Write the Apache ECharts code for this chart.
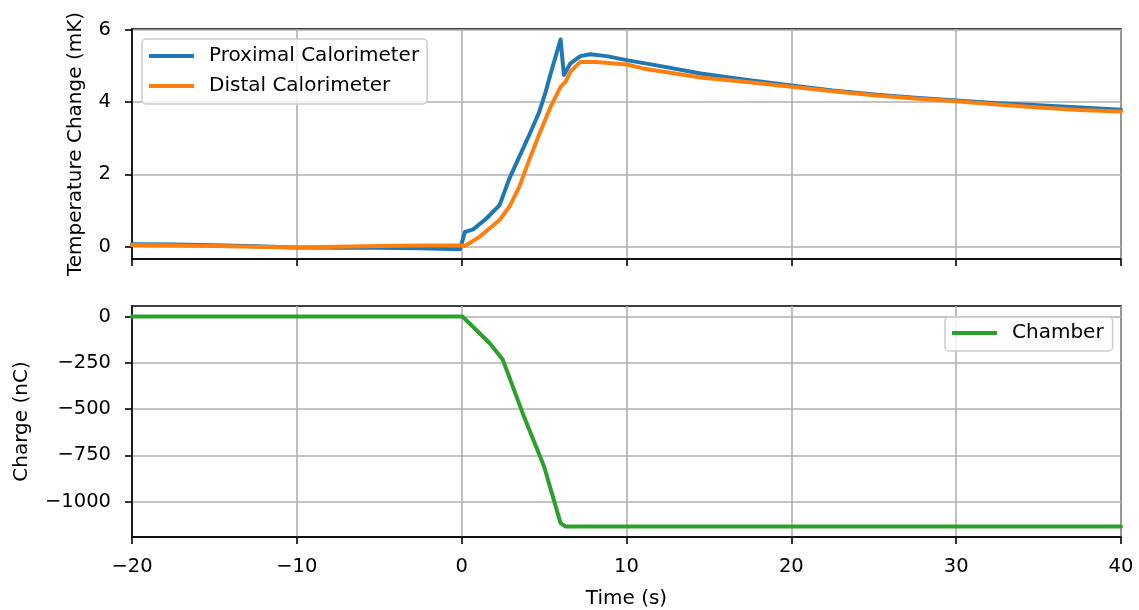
<!DOCTYPE html>
<html>
<head>
<meta charset="utf-8">
<script src="https://cdn.jsdelivr.net/npm/echarts@6/dist/echarts.min.js"></script>
<style>
  html, body { margin: 0; padding: 0; background: #ffffff; }
  #chart { width: 1139px; height: 610px; }
</style>
</head>
<body>
<div id="chart"></div>
<script>
// Calorimeter temperature rise (mK) over time (s)
const proximalTime = [-20, -17.5, -15, -12.5, -10, -7.5, -5, -2.5, -0.1, 0.2, 0.7, 1.5, 2.3, 2.9, 3.5, 4.1, 4.7, 5.1, 5.4, 6.0, 6.2, 6.6, 7.2, 7.8, 8.8, 10, 12, 14.5, 17, 20, 22.5, 25, 27.5, 30, 32.5, 35, 37.5, 40];
const proximalTemp = [0.07, 0.06, 0.04, 0.01, -0.02, -0.03, -0.03, -0.04, -0.07, 0.41, 0.48, 0.78, 1.15, 1.89, 2.49, 3.09, 3.72, 4.29, 4.79, 5.73, 4.75, 5.07, 5.27, 5.32, 5.27, 5.16, 5.00, 4.79, 4.63, 4.46, 4.32, 4.21, 4.12, 4.04, 3.97, 3.91, 3.85, 3.79];

const distalTime = [-20, -17.5, -15, -12.5, -10, -7.5, -5, -2.5, -0.1, 0.2, 1.1, 2.3, 2.9, 3.5, 4.1, 4.7, 5.4, 6.0, 6.3, 6.6, 7.2, 8.2, 10, 11, 14.5, 17, 20, 22.5, 25, 27.5, 30, 32.5, 35, 37.5, 40];
const distalTemp = [0.05, 0.03, 0.02, 0.00, -0.02, 0.00, 0.02, 0.03, 0.03, 0.02, 0.28, 0.74, 1.11, 1.66, 2.40, 3.10, 3.87, 4.42, 4.56, 4.84, 5.11, 5.11, 5.04, 4.93, 4.68, 4.57, 4.42, 4.30, 4.19, 4.10, 4.02, 3.93, 3.85, 3.78, 3.74];

// Ionisation chamber collected charge (nC)
const chamberTime = [-20, 0.05, 1.7, 2.5, 3.7, 5.0, 6.0, 6.3, 40];
const chamberCharge = [0, 0, -144, -234, -522, -810, -1116, -1134, -1134];

// Axis ticks
const timeTicks = [-20, -10, 0, 10, 20, 30, 40];
const tempTicks = [0, 2, 4, 6];
const chargeTicks = [-1000, -750, -500, -250, 0];

const FONT = 'DejaVu Sans';
const FS = 20;
const TICK_FS = 19.5;
const pairs = (xs, ys) => xs.map((x, i) => [x, ys[i]]);
const fmt = v => String(v).replace('-', '\u2212');

const axisLineStyle = { color: '#000000', width: 1.6 };
const gridLine = { show: true, lineStyle: { color: '#b0b0b0', width: 1.6 } };

function xAxisFor(gridIndex, showLabels) {
  return {
    type: 'value', gridIndex,
    min: timeTicks[0], max: timeTicks[timeTicks.length - 1], interval: 10,
    axisLine: { show: true, onZero: false, lineStyle: axisLineStyle },
    axisTick: { show: true, inside: false, length: 7, lineStyle: axisLineStyle },
    splitLine: gridLine,
    axisLabel: { show: showLabels, formatter: fmt, margin: 20, fontSize: TICK_FS, fontFamily: FONT, color: '#000' },
    name: showLabels ? 'Time (s)' : '',
    nameLocation: 'middle', nameGap: 52,
    nameTextStyle: { color: '#000', fontFamily: FONT, fontSize: FS }
  };
}

function yAxisFor(gridIndex, min, max, ticks, name, nameGap) {
  return {
    type: 'value', gridIndex, min, max,
    axisLine: { show: true, onZero: false, lineStyle: axisLineStyle },
    axisTick: { show: true, inside: false, length: 7, lineStyle: axisLineStyle, customValues: ticks },
    splitLine: gridLine,
    axisLabel: { show: true, formatter: fmt, margin: 21, customValues: ticks, fontSize: TICK_FS, fontFamily: FONT, color: '#000' },
    name, nameLocation: 'middle', nameGap, nameRotate: 90,
    nameTextStyle: { color: '#000', fontFamily: FONT, fontSize: FS }
  };
}

const legendBase = {
  orient: 'vertical',
  icon: 'rect',
  itemWidth: 45,
  itemHeight: 4,
  itemGap: 8,
  backgroundColor: 'rgba(255,255,255,0.8)',
  borderColor: '#cccccc',
  borderWidth: 1.5,
  borderRadius: 4,
  textStyle: { color: '#000', fontFamily: FONT, fontSize: FS, lineHeight: 22, padding: [0, 0, 0, 10] }
};

const lineSeries = (name, data, color, xi, yi) => ({
  name, type: 'line', data, xAxisIndex: xi, yAxisIndex: yi,
  showSymbol: false, symbol: 'none', animation: false,
  lineStyle: { color, width: 4, cap: 'round', join: 'round' },
  itemStyle: { color }
});

const gridBase = { left: 132, width: 989, show: true, borderColor: '#000', borderWidth: 1.6, backgroundColor: 'transparent', containLabel: false, outerBoundsMode: 'none' };

const chart = echarts.init(document.getElementById('chart'), null, { renderer: 'canvas' });
chart.setOption({
  animation: false,
  backgroundColor: '#ffffff',
  grid: [
    Object.assign({}, gridBase, { top: 29, height: 230 }),
    Object.assign({}, gridBase, { top: 306, height: 231 })
  ],
  xAxis: [xAxisFor(0, false), xAxisFor(1, true)],
  yAxis: [
    yAxisFor(0, -0.34, 6.02, tempTicks, 'Temperature Change (mK)', 46),
    yAxisFor(1, -1191, 57, chargeTicks, 'Charge (nC)', 100)
  ],
  legend: [
    Object.assign({}, legendBase, { left: 142, top: 39, padding: [6, 8, 7, 7], data: ['Proximal Calorimeter', 'Distal Calorimeter'] }),
    Object.assign({}, legendBase, { left: 945, top: 317, padding: [5, 9, 7, 7], data: ['Chamber'] })
  ],
  series: [
    lineSeries('Proximal Calorimeter', pairs(proximalTime, proximalTemp), '#1f77b4', 0, 0),
    lineSeries('Distal Calorimeter', pairs(distalTime, distalTemp), '#ff7f0e', 0, 0),
    lineSeries('Chamber', pairs(chamberTime, chamberCharge), '#2ca02c', 1, 1)
  ]
});
</script>
</body>
</html>
